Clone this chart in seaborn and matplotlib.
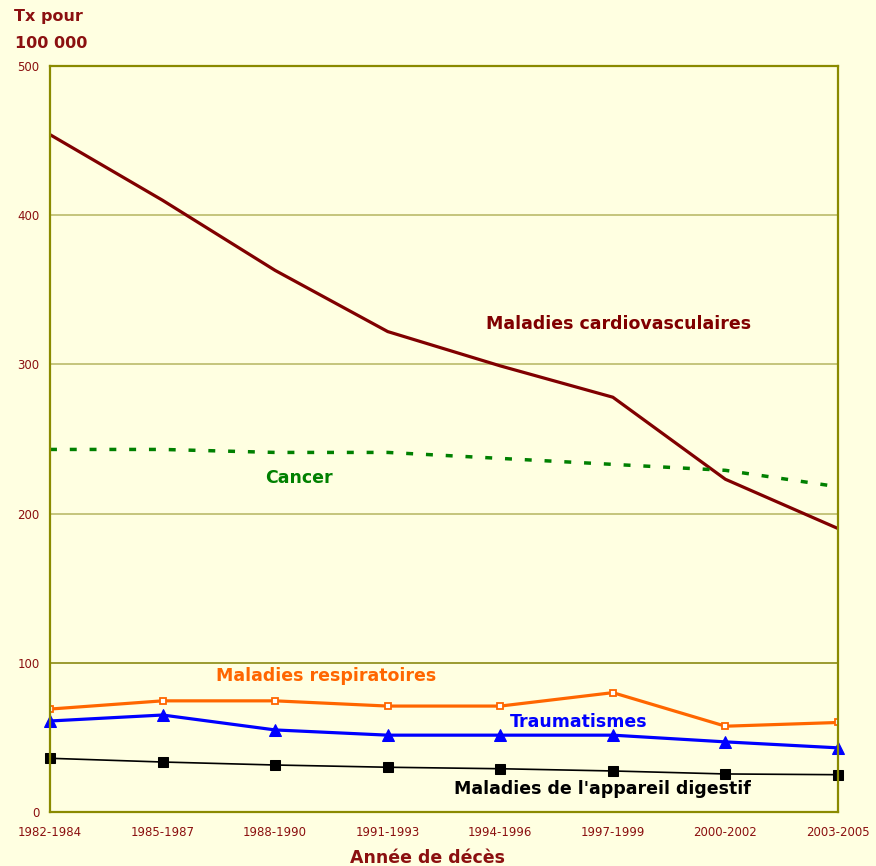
import pandas as pd
import numpy as np
import seaborn as sns
import matplotlib
matplotlib.use('Agg')
import matplotlib.pyplot as plt

periodes = ['1982-1984', '1985-1987', '1988-1990', '1991-1993',
            '1994-1996', '1997-1999', '2000-2002', '2003-2005']
cardio = [454, 410, 363, 322, 299, 278, 223, 190]
cancer = [243, 243, 241, 241, 237, 233, 229, 218]
respiratoire = [69, 74.5, 74.5, 71, 71, 80, 57.5, 60]
trauma = [61, 65, 55, 51.5, 51.5, 51.5, 47, 43]
digestif = [36, 33.5, 31.5, 30, 29, 27.5, 25.5, 25]

bg = '#FFFFE1'
olive = '#8A8A00'
rouge = '#8B1010'

sns.set_style('white')
plt.rcParams['font.family'] = ['DejaVu Sans']

df = pd.DataFrame({'x': np.arange(len(periodes)), 'cardio': cardio, 'cancer': cancer,
                   'resp': respiratoire, 'trauma': trauma, 'dig': digestif})

fig = plt.figure(figsize=(8.76, 8.66), dpi=100, facecolor=bg)
ax = fig.add_axes([50/876, 54/866, 788/876, 746/866])
ax.set_facecolor(bg)

# quadrillage (la ligne 100 est plus foncée)
ax.axhline(100, color='#808000', lw=1.1, zorder=0)
for y in [200, 300, 400]:
    ax.axhline(y, color='#B5B560', lw=1.1, zorder=0)

sns.lineplot(data=df, x='x', y='cardio', ax=ax, color='#800000', lw=2.3)
sns.lineplot(data=df, x='x', y='cancer', ax=ax, color='#008000', lw=2.5,
             dashes=False, linestyle=(0, (2.0, 3.7)))
sns.lineplot(data=df, x='x', y='resp', ax=ax, color='#FF6600', lw=2.3,
             marker='s', markersize=5, markerfacecolor='white',
             markeredgecolor='#FF6600', markeredgewidth=1.3)
sns.lineplot(data=df, x='x', y='trauma', ax=ax, color='#0000FF', lw=2.3,
             marker='^', markersize=9, markeredgecolor='#0000FF', clip_on=False)
sns.lineplot(data=df, x='x', y='dig', ax=ax, color='black', lw=1.2,
             marker='s', markersize=7, markeredgecolor='black', clip_on=False)

ax.set_xlim(0, 7)
ax.set_ylim(0, 500)
ax.set_xticks(range(len(periodes)))
ax.set_xticklabels(periodes)
ax.set_yticks([0, 100, 200, 300, 400, 500])
ax.tick_params(axis='both', colors=olive, labelcolor=rouge, labelsize=8.5,
               length=4, width=1.2, direction='out')
ax.tick_params(axis='x', pad=6)
for s in ax.spines.values():
    s.set_color(olive)
    s.set_linewidth(1.6)
ax.set_xlabel('')
ax.set_ylabel('')

fs = 12.5
ax.text(5.05, 327, 'Maladies cardiovasculaires', color='#800000', fontsize=fs,
        fontweight='bold', ha='center', va='center')
ax.text(2.21, 224, 'Cancer', color='#008000', fontsize=fs,
        fontweight='bold', ha='center', va='center')
ax.text(2.45, 91, 'Maladies respiratoires', color='#FF6600', fontsize=fs,
        fontweight='bold', ha='center', va='center')
ax.text(4.7, 60, 'Traumatismes', color='#0000FF', fontsize=fs,
        fontweight='bold', ha='center', va='center')
ax.text(4.91, 15.5, "Maladies de l'appareil digestif", color='black', fontsize=fs,
        fontweight='bold', ha='center', va='center')

fig.text(48/876, 1 - 17/866, 'Tx pour', color=rouge, fontsize=11.5,
         fontweight='bold', ha='center', va='center')
fig.text(51/876, 1 - 43/866, '100 000', color=rouge, fontsize=11.5,
         fontweight='bold', ha='center', va='center')
fig.text(428/876, 1 - 858/866, 'Année de décès', color=rouge, fontsize=12.5,
         fontweight='bold', ha='center', va='center')

fig.savefig('out.png', dpi=100, facecolor=bg)
